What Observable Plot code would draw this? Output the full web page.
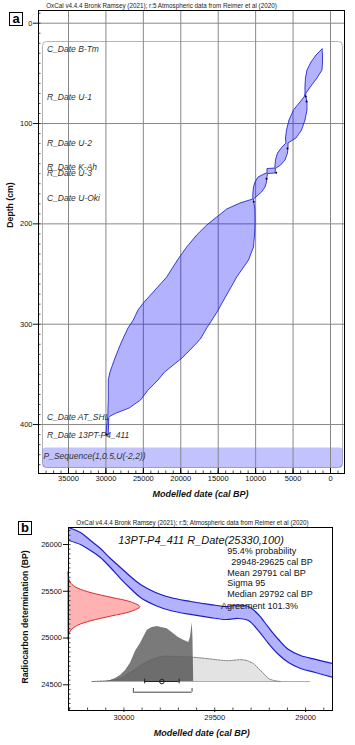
<!DOCTYPE html>
<html><head><meta charset="utf-8">
<script src="https://cdn.jsdelivr.net/npm/d3@7"></script>
<script src="https://cdn.jsdelivr.net/npm/@observablehq/plot@0.6"></script>
<style>
body{margin:0;background:#fff;}
#wrap{position:relative;width:355px;height:745px;overflow:hidden;font-family:"Liberation Sans",Arial,sans-serif;}
.t{position:absolute;white-space:nowrap;line-height:1;}
.box{position:absolute;box-sizing:border-box;border:1px solid #000;background:#fff;font-weight:bold;font-size:13px;text-align:center;line-height:11px;}
</style></head><body><div id="wrap"></div>
<script>
const FONT = '"Liberation Sans", Arial, sans-serif';

// ---------- Panel a data ----------
const rowNames  = ["C_Date B-Tm","R_Date U-1","R_Date U-2","R_Date K-Ah","R_Date U-3","C_Date U-Oki","C_Date AT_SHL","R_Date 13PT-P4_411"];
const rowDepths = [26.2, 74.1, 119.9, 143.9, 149.8, 174.7, 393.0, 411.0];
const pSeqLabel = "P_Sequence(1,0.5,U(-2,2))";

const envDepth = [26.2,32.2,39.2,47.1,55.1,63.1,70.1,73.1,74.1,79.0,87.0,97.0,107.0,114.9,119.9,123.9,129.9,136.9,141.9,144.9,145.3,149.8,150.3,153.8,158.8,163.8,168.8,172.7,175.7,179.7,185.7,193.7,201.7,211.6,223.6,236.5,253.5,268.4,279.4,286.4,296.3,304.3,314.3,319.3,334.2,348.2,356.2,366.2,376.1,384.1,389.1,392.1,393.5,411.0];
const envOld   = [1069,1870,2538,3073,3273,3340,3340,3407,3474,4008,4876,5478,5812,5945,5878,6413,7014,7281,7348,7348,8417,8417,8684,9619,10020,10220,10287,10314,10314,12024,13801,15137,16473,17809,19145,20374,21817,23607,24943,25651,26279,26987,27615,27922,28724,29392,29619,29619,29619,29659,29659,29686,29726,29948];
const envYoung = [1069,1002,1002,1069,1737,2538,3206,3273,3206,3073,3073,3340,3808,4542,5611,5611,5678,6012,6613,7214,7281,7348,8350,8417,8484,8684,9152,9753,10220,10154,10047,10020,10020,10087,10220,10888,12465,13587,14429,14923,15765,16473,17234,17809,19773,22110,22979,24315,25317,26854,28590,29392,29552,29625];

const nodeCal   = [3300, 3200, 5745, 7254, 8550, 10250, 29900];
const nodeDepth = [73, 78, 125, 149, 155, 178, 410];

const xMajorA = [35000,30000,25000,20000,15000,10000,5000,0];
const xMinorA = d3.range(-1000, 39001, 1000);
const yMajorA = [0,100,200,300,400];
const yMinorA = d3.range(-10, 449, 10);

// ---------- Panel b data ----------
const sampleTitle = "13PT-P4_411 R_Date(25330,100)";
const statLines = ["95.4% probability","29948-29625 cal BP","Mean 29791 cal BP","Sigma 95","Median 29792 cal BP","Agreement 101.3%"];
const stats = {mean: 29791, sigma: 95, from: 29948, to: 29625};

const bandCal   = [30303,30239,30184,30129,30074,30019,29964,29909,29826,29744,29634,29524,29436,29370,29315,29260,29204,29149,29094,29028,28946,28854];
const bandUpper = [26179,26128,26043,25957,25850,25754,25658,25572,25487,25433,25391,25358,25337,25353,25337,25252,25113,24984,24877,24813,24771,24728];
const bandLower = [26043,26000,25936,25861,25754,25636,25530,25433,25348,25294,25252,25219,25198,25209,25187,25080,24941,24824,24738,24674,24631,24581];

const redBP   = [25700,25630,25580,25530,25480,25430,25380,25330,25280,25230,25180,25130,25080,25030,24980];
const redProb = [0,0.01,0.04,0.13,0.32,0.6,0.88,1,0.88,0.6,0.32,0.13,0.04,0.01,0];

const darkCal  = [30101,30074,30046,30019,29991,29964,29936,29909,29872,29848,29817,29788,29762,29726,29700,29671,29643,29634,29624,29620,29616];
const darkProb = [0,0.02,0.055,0.11,0.2,0.33,0.55,0.69,0.93,0.98,1.0,0.98,0.96,0.87,0.8,0.75,0.71,0.8,1.07,0.8,0];
const lightCal  = [30175,30074,30019,29946,29898,29854,29799,29716,29616,29524,29432,29349,29315,29285,29260,29230,29204,29175,29138];
const lightProb = [0,0.02,0.055,0.2,0.31,0.38,0.45,0.455,0.44,0.41,0.38,0.395,0.37,0.32,0.24,0.14,0.055,0.02,0];
const baselineRange = [30175, 28973];

const xMajorB = [30000,29500,29000];
const xMinorB = d3.range(28900, 30301, 100);
const yMajorB = [24500,25000,25500,26000];
const yMinorB = d3.range(24250, 26151, 50);

// ---------- tables ----------
const env = envDepth.map((d,i)=>({depth:d, old:envOld[i], young:envYoung[i]}));
const nodes = nodeCal.map((c,i)=>({cal:c, depth:nodeDepth[i]}));
const rows = rowNames.map((n,i)=>({name:n, depth:rowDepths[i]}));
const band = bandCal.map((c,i)=>({cal:c, hi:bandUpper[i], lo:bandLower[i]}));
const red = redBP.map((b,i)=>({bp:b, p:redProb[i]}));
const dark = darkCal.map((c,i)=>({cal:c, p:darkProb[i]}));
const light = lightCal.map((c,i)=>({cal:c, p:lightProb[i]}));

const wrap = document.getElementById("wrap");
function place(svg, top){ svg.style.position="absolute"; svg.style.left="0px"; svg.style.top=top+"px"; svg.style.overflow="visible"; wrap.appendChild(svg); }
function addText(txt, x, y, css, rot){
  const d = document.createElement("div"); d.className="t"; d.textContent=txt;
  d.style.left=x+"px"; d.style.top=y+"px"; Object.assign(d.style, css);
  d.style.transform = "translate(-50%,-50%)" + (rot ? " rotate("+rot+"deg)" : "");
  wrap.appendChild(d);
}
function addBox(txt, x, y, w, h){
  const d=document.createElement("div"); d.className="box"; d.textContent=txt;
  d.style.left=x+"px"; d.style.top=y+"px"; d.style.width=w+"px"; d.style.height=h+"px"; d.style.lineHeight=(h-2)+"px";
  wrap.appendChild(d);
}

// ---------- Panel a ----------
const fwA = 355-38-11, fhA = 505-10-32;
const plotA = Plot.plot({
  width:355, height:505, marginLeft:38, marginRight:11, marginTop:10, marginBottom:32,
  x:{domain:[39006,-1870]}, y:{domain:[-12.66,448.8], reverse:true},
  style:{background:"transparent", fontFamily:FONT, fontSize:"7.5px", color:"#111"},
  marks:[
    Plot.frame({insetTop:31, insetLeft:4, insetRight:2, insetBottom:6, rx:4, fill:"none", stroke:"#b4b4b4"}),
    Plot.frame({insetTop:437, insetLeft:4, insetRight:2, insetBottom:6, rx:3, fill:"#0000ff", fillOpacity:0.24, stroke:"none"}),
    Plot.ruleX(xMajorA, {stroke:"#888", strokeWidth:1}),
    Plot.ruleY(yMajorA, {stroke:"#888", strokeWidth:1}),
    Plot.areaX(env, {y:"depth", x1:"old", x2:"young", fill:"#0000ff", fillOpacity:0.3, stroke:"#2828cc", strokeWidth:0.9}),
    Plot.dot(nodes, {x:"cal", y:"depth", r:1, fill:"#000"}),
    Plot.text(rows, {y:"depth", text:"name", frameAnchor:"left", dx:8.5, textAnchor:"start", fontStyle:"italic", fontSize:8.5, fill:"#333"}),
    Plot.text([pSeqLabel], {text:d=>d, frameAnchor:"bottom-left", dx:5, dy:-15, textAnchor:"start", fontStyle:"italic", fontSize:8.5, fill:"#333"}),
    Plot.tickX(xMinorA, {x:d=>d, insetTop:fhA-2.5, stroke:"#000", strokeWidth:0.7}),
    Plot.tickX(xMajorA, {x:d=>d, insetTop:fhA-5, stroke:"#000"}),
    Plot.tickY(yMinorA, {y:d=>d, insetRight:fwA-2.5, stroke:"#000", strokeWidth:0.7}),
    Plot.frame({stroke:"#000"}),
    Plot.axisX(xMajorA, {anchor:"bottom", tickSize:0, tickPadding:2, tickFormat:d=>String(d), label:null, fontSize:7.5}),
    Plot.axisY(yMajorA, {anchor:"left", tickSize:5, tickPadding:1, tickFormat:d=>String(d), label:null, fontSize:7.5})
  ]
});
place(plotA, 0);

// ---------- Panel b ----------
const fwB = 355-68-23, fhB = 240-22-35;
const BASE = 24535, DSCALE = 588, RANGE_Y = 24421, RED_W = 395, XMAX = 30305;
const lineMarks = statLines.map((s,i)=>Plot.text([s], {text:d=>d, frameAnchor:"top-left", dx:[158.7,162.7,158.7,158.7,158.7,152.4][i], dy:[20,31,41.7,52,63.4,75][i], textAnchor:"start", fontSize:9, fill:"#111"}));
const plotB = Plot.plot({
  width:355, height:240, marginLeft:68, marginRight:23, marginTop:22, marginBottom:35,
  x:{domain:[XMAX,28852]}, y:{domain:[24225,26182]},
  style:{background:"transparent", fontFamily:FONT, fontSize:"7.5px", color:"#111"},
  marks:[
    Plot.areaX(red, {y:"bp", x1:()=>XMAX, x2:d=>XMAX - d.p*RED_W, fill:"#ff0000", fillOpacity:0.3, stroke:"#dd2a2a", strokeWidth:1, curve:"catmull-rom"}),
    Plot.areaY(light, {x:"cal", y1:()=>BASE, y2:d=>BASE + d.p*DSCALE, fill:"#e3e3e3", curve:"catmull-rom"}),
    Plot.ruleY([BASE], {x1:()=>baselineRange[0], x2:()=>baselineRange[1], stroke:"#999", strokeWidth:0.8}),
    Plot.areaY(dark, {x:"cal", y1:()=>BASE, y2:d=>BASE + d.p*DSCALE, fill:"#000", fillOpacity:0.52}),
    Plot.line(light, {x:"cal", y:d=>BASE + d.p*DSCALE, stroke:"#666", strokeWidth:0.8, strokeDasharray:"1.5,1.2", curve:"catmull-rom"}),
    Plot.areaY(band, {x:"cal", y1:"lo", y2:"hi", fill:"#0000ff", fillOpacity:0.3, curve:"catmull-rom", clip:true}),
    Plot.line(band, {x:"cal", y:"hi", stroke:"#1c1cc8", strokeWidth:1.2, curve:"catmull-rom", clip:true}),
    Plot.line(band, {x:"cal", y:"lo", stroke:"#1c1cc8", strokeWidth:1.2, curve:"catmull-rom", clip:true}),
    Plot.ruleY([stats], {y:()=>BASE, x1:d=>d.mean+d.sigma, x2:d=>d.mean-d.sigma, stroke:"#222", strokeWidth:1}),
    Plot.ruleX([stats.mean+stats.sigma, stats.mean-stats.sigma], {x:d=>d, y1:()=>BASE-25, y2:()=>BASE+25, stroke:"#222"}),
    Plot.dot([stats], {x:"mean", y:()=>BASE, r:2.3, stroke:"#222", fill:"none", strokeWidth:1}),
    Plot.ruleY([stats], {y:()=>RANGE_Y, x1:"from", x2:"to", stroke:"#444", strokeWidth:1}),
    Plot.ruleX([stats.from, stats.to], {x:d=>d, y1:()=>RANGE_Y, y2:()=>RANGE_Y+40, stroke:"#444"}),
    Plot.text([sampleTitle], {text:d=>d, frameAnchor:"top-left", dx:132.5, dy:8.4, textAnchor:"middle", fontStyle:"italic", fontSize:11, fill:"#111"}),
    ...lineMarks,
    Plot.tickX(xMinorB, {x:d=>d, insetTop:fhB-2.5, stroke:"#000", strokeWidth:0.7}),
    Plot.tickY(yMinorB, {y:d=>d, insetRight:fwB-2.5, stroke:"#000", strokeWidth:0.7}),
    Plot.frame({stroke:"#000"}),
    Plot.axisX(xMajorB, {anchor:"bottom", tickSize:2, tickPadding:2, tickFormat:d=>String(d), label:null, fontSize:7.5}),
    Plot.axisY(yMajorB, {anchor:"left", tickSize:5, tickPadding:1.5, tickFormat:d=>String(d), label:null, fontSize:7.5})
  ]
});
place(plotB, 505);

// ---------- decorations ----------
addBox("a", 9, 12, 14, 14);
addBox("b", 18, 521, 14, 14);
addText("OxCal v4.4.4 Bronk Ramsey (2021); r:5 Atmospheric data from Reimer et al (2020)", 161.5, 6, {fontSize:"6.3px", color:"#222"});
addText("OxCal v4.4.4 Bronk Ramsey (2021); r:5; Atmospheric data from Reimer et al (2020)", 192.5, 522.7, {fontSize:"6.3px", color:"#222"});
addText("Depth (cm)", 9.5, 205, {fontSize:"8.7px", fontWeight:"bold", color:"#111"}, -90);
addText("Modelled date (cal BP)", 200.5, 494, {fontSize:"9px", fontWeight:"bold", fontStyle:"italic", color:"#111"});
addText("Radiocarbon determination (BP)", 25, 617, {fontSize:"8.7px", fontWeight:"bold", color:"#111"}, -90);
addText("Modelled date (cal BP)", 201.7, 733, {fontSize:"9px", fontWeight:"bold", fontStyle:"italic", color:"#111"});
</script></body></html>
